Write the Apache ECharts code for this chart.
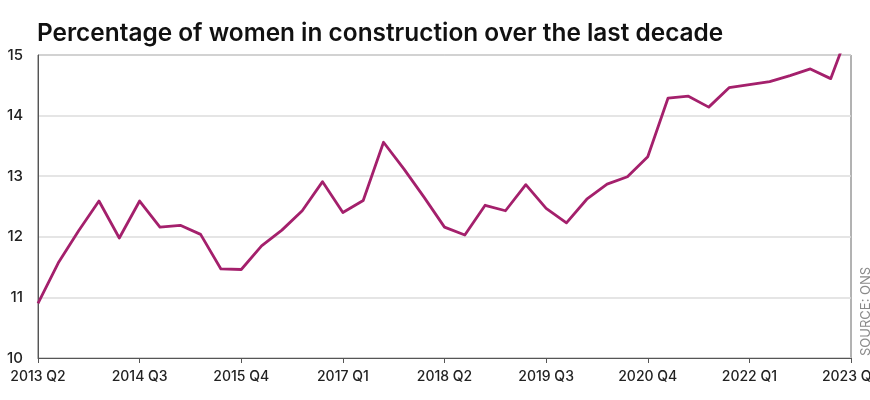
<!DOCTYPE html>
<html>
<head>
<meta charset="utf-8">
<script src="https://cdn.jsdelivr.net/npm/echarts@6/dist/echarts.min.js"></script>
<style>
html,body{margin:0;padding:0;background:#fff;}
#chart{width:870px;height:400px;}
</style>
</head>
<body>
<div id="chart"></div>
<script>
const titleText = 'Percentage of women in construction over the last decade';
const sourceText = 'SOURCE: ONS';
const quarters = [];
for (let y = 2013; y <= 2023; y++) {
  for (let q = 1; q <= 4; q++) {
    if ((y === 2013 && q < 2) || (y === 2023 && q > 2)) continue;
    quarters.push(y + ' Q' + q);
  }
}
const womenPct = [
  10.90, 11.57, 12.10, 12.59, 11.98, 12.59, 12.16, 12.19, 12.04, 11.47,
  11.46, 11.85, 12.11, 12.43, 12.91, 12.40, 12.60, 13.56, 13.12, 12.65,
  12.16, 12.03, 12.52, 12.43, 12.86, 12.47, 12.23, 12.62, 12.87, 12.99,
  13.32, 14.29, 14.32, 14.14, 14.46, 14.51, 14.56, 14.66, 14.77, 14.61,
  15.50
];
const yMin = 10, yMax = 15, yStep = 1;

const chart = echarts.init(document.getElementById('chart'), null, {renderer: 'canvas'});
const font = 'Inter, "Noto Sans", sans-serif';
chart.setOption({
  animation: false,
  backgroundColor: '#fff',
  title: {
    text: titleText,
    left: 32, top: 17,
    textStyle: {fontFamily: font, fontSize: 24.4, fontWeight: 600, color: '#111'}
  },
  grid: {left: 38, right: 19, top: 55, bottom: 42, show: true, borderColor: '#666', borderWidth: 1, containLabel: false, outerBoundsMode: 'none'},
  xAxis: {
    type: 'category',
    data: quarters,
    boundaryGap: false,
    axisLine: {lineStyle: {color: '#555', width: 1}},
    axisTick: {show: true, interval: 4, length: 5, lineStyle: {color: '#555'}},
    axisLabel: {interval: 4, fontFamily: font, fontSize: 14, fontWeight: 500, color: '#222', margin: 12, hideOverlap: false},
    splitLine: {show: false}
  },
  yAxis: {
    type: 'value',
    min: yMin, max: yMax, interval: yStep,
    axisLine: {show: true, lineStyle: {color: '#555', width: 1}},
    axisTick: {show: false},
    axisLabel: {fontFamily: font, fontSize: 15, fontWeight: 500, color: '#222', margin: 15},
    splitLine: {lineStyle: {color: '#dcdcdc', width: 1.5}}
  },
  graphic: [{
    type: 'text',
    x: 866, y: 356,
    rotation: Math.PI / 2,
    style: {text: sourceText, fontFamily: font, fontSize: 13, fill: '#8a8a8a', textAlign: 'left', textVerticalAlign: 'middle'}
  }],
  series: [{
    type: 'line',
    data: womenPct,
    symbol: 'none',
    clip: true,
    lineStyle: {color: '#a4206c', width: 2.8, join: 'round'}
  }]
});
</script>
</body>
</html>
